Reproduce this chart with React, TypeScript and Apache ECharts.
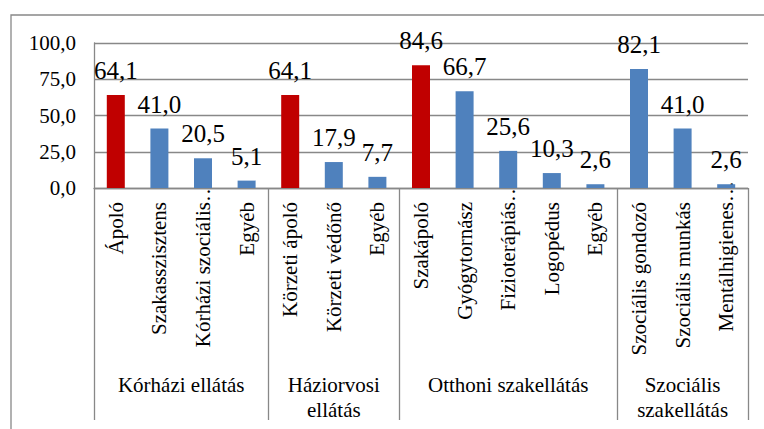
import React, { useEffect, useRef } from "react";
import * as echarts from "echarts";

const categories = [
  "Ápoló",
  "Szakasszisztens",
  "Kórházi szociális…",
  "Egyéb",
  "Körzeti ápoló",
  "Körzeti védőnő",
  "Egyéb",
  "Szakápoló",
  "Gyógytornász",
  "Fizioterápiás…",
  "Logopédus",
  "Egyéb",
  "Szociális gondozó",
  "Szociális munkás",
  "Mentálhigienes…",
];
const values = [64.1, 41.0, 20.5, 5.1, 64.1, 17.9, 7.7, 84.6, 66.7, 25.6, 10.3, 2.6, 82.1, 41.0, 2.6];
const highlightedCategories = ["Ápoló", "Körzeti ápoló", "Szakápoló"];
const groupNames = ["Kórházi ellátás", "Háziorvosi\nellátás", "Otthoni szakellátás", "Szociális\nszakellátás"];
const groupSizes = [4, 3, 5, 3];
const yMin = 0;
const yMax = 100;
const yInterval = 25;

const FONT = "Liberation Serif";
const GRAY = "#888888";
const RED = "#C00000";
const BLUE = "#4F81BD";

function fmt(v: number) {
  return v.toFixed(1).replace(".", ",");
}

export default function App() {
  const ref = useRef<HTMLDivElement>(null);
  useEffect(() => {
    document.body.style.margin = "0";
    if (!ref.current) return;
    const chart = echarts.init(ref.current, undefined, { renderer: "svg" });

    const boundaries = [0];
    groupSizes.forEach((s) => boundaries.push(boundaries[boundaries.length - 1] + 2 * s));
    const total = boundaries[boundaries.length - 1];
    const centers = groupNames.map((_, i) => (boundaries[i] + boundaries[i + 1]) / 2);
    const groupAxisData = Array.from({ length: total + 1 }, (_, k) => {
      const gi = centers.indexOf(k);
      return gi >= 0 ? groupNames[gi] : "";
    });

    chart.setOption({
      animation: false,
      backgroundColor: "#ffffff",
      textStyle: { fontFamily: FONT },
      graphic: [
        {
          type: "rect",
          shape: { x: 11, y: 15, width: 900, height: 600 },
          style: { fill: "none", stroke: GRAY, lineWidth: 1.3 },
          silent: true,
          z: -1,
        },
      ],
      grid: { left: 94, right: 16, top: 43, bottom: 241, containLabel: false },
      xAxis: [
        {
          type: "category",
          data: categories,
          position: "bottom",
          axisLine: { show: true, lineStyle: { color: GRAY, width: 1.3 } },
          axisTick: { show: false },
          axisLabel: {
            rotate: 90,
            margin: -7,
            interval: 0,
            color: "#000",
            fontFamily: FONT,
            fontSize: 21,
            formatter: (name: string) => {
              if (name.endsWith("…")) return "{t|" + name + "}";
              return "{n|" + name + "}";
            },
            rich: {
              n: { fontFamily: FONT, fontSize: 21, color: "#000", padding: [0, 21, 0, 0] },
              t: { fontFamily: FONT, fontSize: 21, color: "#000" },
            },
          },
          splitLine: { show: false },
        },
        {
          type: "category",
          data: groupAxisData,
          position: "bottom",
          boundaryGap: false,
          axisLine: { show: false },
          axisTick: {
            show: true,
            length: 232,
            lineStyle: { color: GRAY, width: 1.3 },
            interval: (index: number) => boundaries.indexOf(index) >= 0,
          },
          axisLabel: {
            interval: (index: number) => centers.indexOf(index) >= 0,
            margin: 184,
            color: "#000",
            fontFamily: FONT,
            fontSize: 21,
            lineHeight: 25,
            align: "center",
            formatter: (name: string) =>
              name
                .split("\n")
                .map((s) => "{g|" + s + "}")
                .join("\n"),
            rich: {
              g: { fontFamily: FONT, fontSize: 21, color: "#000", lineHeight: 25 },
            },
          },
          splitLine: { show: false },
        },
      ],
      yAxis: {
        type: "value",
        min: yMin,
        max: yMax,
        interval: yInterval,
        axisLine: { show: true, lineStyle: { color: GRAY, width: 1.3 } },
        axisTick: { show: false },
        axisLabel: {
          margin: 18,
          color: "#000",
          fontFamily: FONT,
          fontSize: 21,
          formatter: (v: number) => "{y|" + fmt(v) + "}",
          rich: {
            y: { fontFamily: FONT, fontSize: 21, color: "#000" },
          },
        },
        splitLine: { show: true, lineStyle: { color: GRAY, width: 1.3 } },
      },
      series: [
        {
          type: "bar",
          xAxisIndex: 0,
          yAxisIndex: 0,
          data: values.map((v, i) => ({
            value: v,
            itemStyle: { color: highlightedCategories.includes(categories[i]) ? RED : BLUE },
          })),
          barWidth: 18,
          label: {
            show: true,
            position: "top",
            distance: 12,
            color: "#000",
            fontFamily: FONT,
            fontSize: 25,
            formatter: (p: any) => "{v|" + fmt(p.value) + "}",
            rich: {
              v: { fontFamily: FONT, fontSize: 25, color: "#000" },
            },
          },
        },
      ],
    });
    return () => chart.dispose();
  }, []);
  return <div ref={ref} style={{ width: 764, height: 429 }} />;
}
